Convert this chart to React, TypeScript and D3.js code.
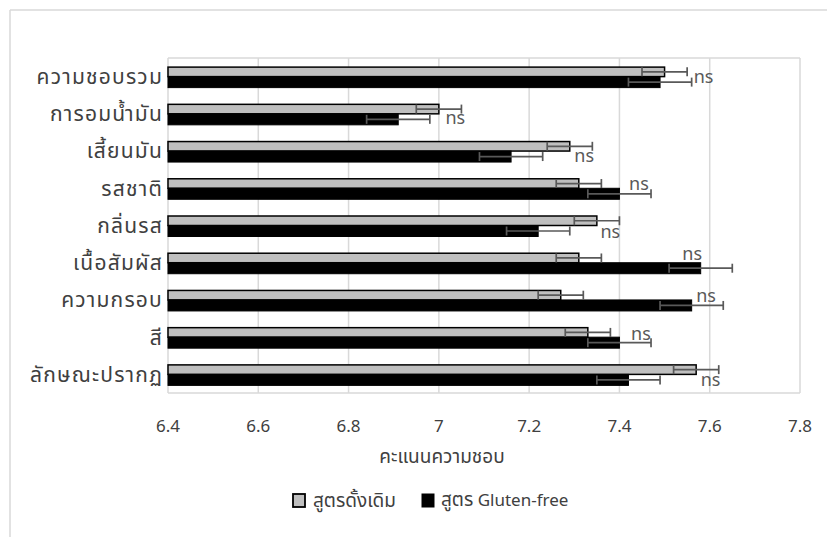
import React from "react";
import * as d3 from "d3";

// Sensory attributes, top to bottom
const categories = [
  "ความชอบรวม",
  "การอมน้ำมัน",
  "เสี้ยนมัน",
  "รสชาติ",
  "กลิ่นรส",
  "เนื้อสัมผัส",
  "ความกรอบ",
  "สี",
  "ลักษณะปรากฏ",
];

const seriesNames = ["สูตรดั้งเดิม", "สูตร Gluten-free"];

// Mean liking scores
const original = [7.5, 7.0, 7.29, 7.31, 7.35, 7.31, 7.27, 7.33, 7.57];
const glutenFree = [7.49, 6.91, 7.16, 7.4, 7.22, 7.58, 7.56, 7.4, 7.42];

// Error bar half-widths
const originalErr = [0.05, 0.05, 0.05, 0.05, 0.05, 0.05, 0.05, 0.05, 0.05];
const glutenFreeErr = [0.07, 0.07, 0.07, 0.07, 0.07, 0.07, 0.07, 0.07, 0.07];

// Significance marks
const sigLabels = ["ns", "ns", "ns", "ns", "ns", "ns", "ns", "ns", "ns"];

const xTicks = [6.4, 6.6, 6.8, 7.0, 7.2, 7.4, 7.6, 7.8];
const xTitle = "คะแนนความชอบ";

// Hand placement of the significance marks: [dx from furthest whisker, dy from band centre]
const sigOffsets: [number, number][] = [
  [2, 1],
  [-16, 4],
  [-18, 5],
  [-22, -4],
  [-19, 7],
  [-50, -8],
  [-27, -4],
  [-20, -3],
  [-18, 6],
];

const W = 827;
const H = 537;
const FONT = "'Noto Sans', 'Noto Sans Thai', 'DejaVu Sans', sans-serif";
const THAI_SIZE = 19;
const LATIN_SIZE = 17;
const TEXT = "#404040";

export default function App() {
  const x = d3.scaleLinear().domain([6.4, 7.8]).range([168, 800]);
  const y = d3.scaleBand<string>().domain(categories).range([58, 393]);

  const grid = "#d9d9d9";
  const errColor = "#595959";
  const cap = 4.5;

  const rows = categories.map((c, i) => {
    const cy = (y(c) as number) + y.bandwidth() / 2;
    const gTop = cy - 9.5;
    const gH = 9.5;
    const bTop = cy;
    const bH = 11;
    const gy = gTop + gH / 2;
    const by = bTop + bH / 2;
    const errs = [
      { v: original[i], e: originalErr[i], yy: gy },
      { v: glutenFree[i], e: glutenFreeErr[i], yy: by },
    ];
    const maxEnd = Math.max(original[i] + originalErr[i], glutenFree[i] + glutenFreeErr[i]);
    const [dx, dy] = sigOffsets[i];
    return (
      <g key={c}>
        <rect
          x={x(6.4)}
          y={gTop}
          width={x(original[i]) - x(6.4)}
          height={gH}
          fill="#bfbfbf"
          stroke="#000"
          strokeWidth={1.5}
        />
        <rect
          x={x(6.4)}
          y={bTop}
          width={x(glutenFree[i]) - x(6.4)}
          height={bH}
          fill="#000"
          stroke="#000"
          strokeWidth={1}
        />
        {errs.map((d, k) => (
          <g key={k} stroke={errColor} strokeWidth={1.7} fill="none">
            <line x1={x(d.v - d.e)} x2={x(d.v + d.e)} y1={d.yy} y2={d.yy} />
            <line x1={x(d.v - d.e)} x2={x(d.v - d.e)} y1={d.yy - cap} y2={d.yy + cap} />
            <line x1={x(d.v + d.e)} x2={x(d.v + d.e)} y1={d.yy - cap} y2={d.yy + cap} />
          </g>
        ))}
        <text
          x={x(maxEnd) + dx}
          y={cy + dy}
          dy="0.32em"
          fontSize={18}
          fill="#595959"
          fontFamily={FONT}
        >
          {sigLabels[i]}
        </text>
        <text
          x={163}
          y={cy}
          dy="0.35em"
          textAnchor="end"
          fontSize={21}
          letterSpacing={1.2}
          fill={TEXT}
          fontFamily={FONT}
        >
          {c}
        </text>
      </g>
    );
  });

  return (
    <svg
      width={W}
      height={H}
      style={{ position: "absolute", left: 0, top: 0, background: "#fff" }}
    >
      <rect x={0} y={0} width={W} height={H} fill="#fff" />
      {/* chart frame */}
      <line x1={10} x2={W} y1={10} y2={10} stroke={grid} strokeWidth={1.5} />
      <line x1={10} x2={10} y1={10} y2={H} stroke={grid} strokeWidth={1.5} />

      {/* vertical gridlines */}
      {xTicks.map((t) => (
        <line
          key={t}
          x1={x(t)}
          x2={x(t)}
          y1={58}
          y2={393}
          stroke={grid}
          strokeWidth={1.5}
        />
      ))}
      <line x1={x(6.4)} x2={x(7.8)} y1={58} y2={58} stroke={grid} strokeWidth={1.5} />
      <line x1={x(6.4)} x2={x(7.8)} y1={393} y2={393} stroke={grid} strokeWidth={1.5} />

      {rows}

      {/* x tick labels */}
      {xTicks.map((t) => (
        <text
          key={t}
          x={x(t)}
          y={426}
          dy="0.35em"
          textAnchor="middle"
          fontSize={LATIN_SIZE}
          fill={TEXT}
          fontFamily={FONT}
        >
          {d3.format("~g")(t)}
        </text>
      ))}
      <text
        x={442}
        y={456}
        dy="0.35em"
        textAnchor="middle"
        fontSize={THAI_SIZE}
        fill={TEXT}
        fontFamily={FONT}
      >
        {xTitle}
      </text>

      {/* legend */}
      <rect x={293} y={494} width={12} height={13} fill="#bfbfbf" stroke="#000" strokeWidth={1.8} />
      <text x={313} y={500.5} dy="0.35em" fontSize={THAI_SIZE} fill={TEXT} fontFamily={FONT}>
        {seriesNames[0]}
      </text>
      <rect x={422} y={494} width={12} height={13} fill="#000" stroke="#000" strokeWidth={1} />
      <text x={441} y={500.5} dy="0.35em" fontSize={LATIN_SIZE} fill={TEXT} fontFamily={FONT}>
        <tspan fontSize={THAI_SIZE}>{seriesNames[1].split(" ")[0]}</tspan>
        <tspan>{" " + seriesNames[1].split(" ").slice(1).join(" ")}</tspan>
      </text>
    </svg>
  );
}
